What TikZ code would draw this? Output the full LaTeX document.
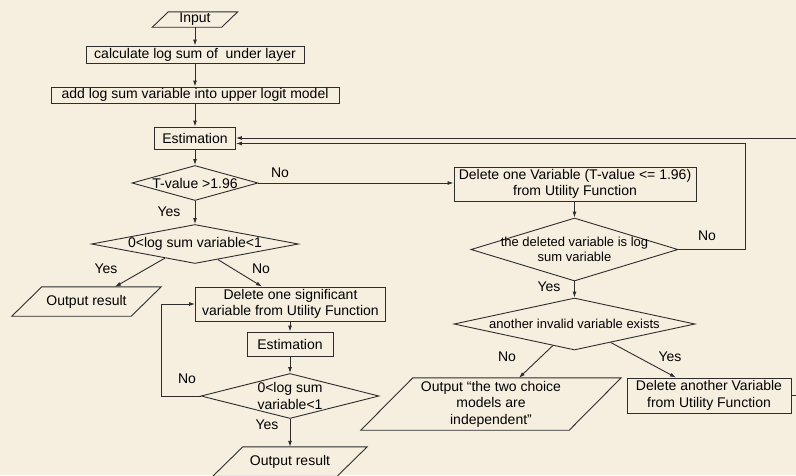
\documentclass[tikz,border=0pt]{standalone}
\usepackage{fontspec}
\setmainfont{Liberation Sans}
\usetikzlibrary{shapes.geometric,arrows.meta,calc}
\definecolor{bg}{RGB}{246,239,224}
\definecolor{ln}{RGB}{45,45,45}
% parallelogram outline around a rectangular text node: #1 node name, #2 slant
\newcommand\pgramoutline[2]{%
  \draw[pline] ($(#1.south west)+(-#2/2,0)$) -- ($(#1.north west)+(#2/2,0)$)
    -- ($(#1.north east)+(#2/2,0)$) -- ($(#1.south east)+(-#2/2,0)$) -- cycle;}
\begin{document}
\begin{tikzpicture}[x=1pt,y=-1pt,
  every node/.style={font=\fontsize{14}{16.5}\selectfont, text=black},
  box/.style={draw=ln, line width=0.9pt, rectangle, inner sep=0pt, align=center},
  diam/.style={draw=ln, line width=0.9pt, diamond, inner sep=0pt},
  dtext/.style={font=\fontsize{13}{15.5}\selectfont, align=center, inner sep=0pt},
  dtextb/.style={font=\fontsize{14}{16.5}\selectfont, align=center, inner sep=0pt},
  ptext/.style={rectangle, inner sep=0pt, align=center},
  pline/.style={draw=ln, line width=0.9pt},
  arr/.style={draw=ln, line width=0.9pt, -{Latex[length=6pt,width=4pt]}},
  lbl/.style={inner sep=0pt},
]
\useasboundingbox (0,0) rectangle (796,475);
\fill[bg] (0,0) rectangle (796,475);
\clip (0,0) rectangle (796,475);

% left column
\node[ptext, minimum width=69pt, minimum height=15pt] (in) at (195,19.5) {Input};
\pgramoutline{in}{16}
\node[box, minimum width=218pt, minimum height=17pt] (calc) at (195,54.5) {calculate log sum of\ \ under layer};
\node[box, minimum width=288pt, minimum height=16pt] (add) at (195,95) {add log sum variable into upper logit model};
\node[box, minimum width=81pt, minimum height=22pt] (est1) at (195,138) {Estimation};
\node[diam, minimum width=126pt, minimum height=35pt,
      label={[dtextb, name=d1t]center:T-value >1.96}] (d1) at (195,183) {};
\node[diam, minimum width=207pt, minimum height=39pt,
      label={[dtextb, name=d2t]center:0<log sum variable<1}] (d2) at (195,244) {};
\node[ptext, minimum width=119pt, minimum height=29pt] (out1) at (86.5,301.5) {Output result};
\pgramoutline{out1}{30}
\node[box, minimum width=190pt, minimum height=34pt] (del1) at (290.5,304) {Delete one significant\\variable from Utility Function};
\node[box, minimum width=86pt, minimum height=24pt] (est2) at (290,344) {Estimation};
\node[diam, minimum width=178pt, minimum height=45pt,
      label={[dtextb, name=d3t]center:0<log sum\\variable<1}] (d3) at (290,396) {};
\node[ptext, minimum width=124pt, minimum height=29pt] (out2) at (290,461.5) {Output result};
\pgramoutline{out2}{30}

% right column
\node[box, minimum width=242pt, minimum height=34pt] (del2) at (575,184) {Delete one Variable (T-value <= 1.96)\\from Utility Function};
\node[diam, minimum width=207pt, minimum height=63pt,
      label={[dtext, name=d4t]center:the deleted variable is log\\sum variable}] (d4) at (574.5,249.5) {};
\node[diam, minimum width=241pt, minimum height=52pt,
      label={[dtext, name=d5t]center:another invalid variable exists}] (d5) at (574.5,324) {};
\node[ptext, minimum width=208pt, minimum height=52pt] (out3) at (491,404) {Output “the two choice\\models are\\independent”};
\pgramoutline{out3}{52}
\node[box, minimum width=164pt, minimum height=35pt] (del3) at (709,395.5) {Delete another Variable\\from Utility Function};

% helper coordinates
\coordinate (cL) at (161,0);
\coordinate (cM) at (745,0);
\coordinate (cR) at (810,0);

% connectors
\draw[arr] (in.south) -- (calc.north);
\draw[arr] (calc.south) -- (add.north);
\draw[arr] (add.south) -- (est1.north);
\draw[arr] (est1.south) -- (d1.north);
\draw[arr] (d1.south) -- (d2.north);
\draw[arr] (d1.east) -- (d1.east -| del2.west);
\draw[arr] ($(d2.west)!0.71!(d2.south)$) -- ($(out1.north)+(28.5,0)$);
\draw[arr] ($(d2.south)!0.22!(d2.east)$) -- ($(del1.north)+(-28.5,0)$);
\draw[arr] (est2.north |- del1.south) -- (est2.north);
\draw[arr] (est2.south) -- (d3.north);
\draw[arr] (d3.south) -- (out2.north);
\draw[arr] (d3.west) -- (d3.west -| cL) |- (del1.west);

\draw[arr] (del2.south -| d4.north) -- (d4.north);
\draw[arr] (d4.south) -- (d5.north);
\draw[arr] (d4.east) -- (d4.east -| cM) |- ([yshift=-5.5pt]est1.east);
\draw[arr] ($(d5.south)!0.18!(d5.west)$) -- ($(out3.north)+(28,0)$);
\draw[arr] ($(d5.south)!0.3!(d5.east)$) -- ($(del3.north)+(-33,0)$);
\draw[arr] (del3.east) -- (del3.east -| cR) |- (est1.east);

% branch labels
\node[lbl] (l1) at (280,173) {No};
\node[lbl] (l2) at (169,212) {Yes};
\node[lbl] (l3) at (106,269) {Yes};
\node[lbl] (l4) at (261,269) {No};
\node[lbl] (l5) at (187,379) {No};
\node[lbl] (l6) at (267,425) {Yes};
\node[lbl] (l7) at (707,236) {No};
\node[lbl] (l8) at (549,287) {Yes};
\node[lbl] (l9) at (507,357) {No};
\node[lbl] (l10) at (670,357) {Yes};
\end{tikzpicture}
\end{document}
